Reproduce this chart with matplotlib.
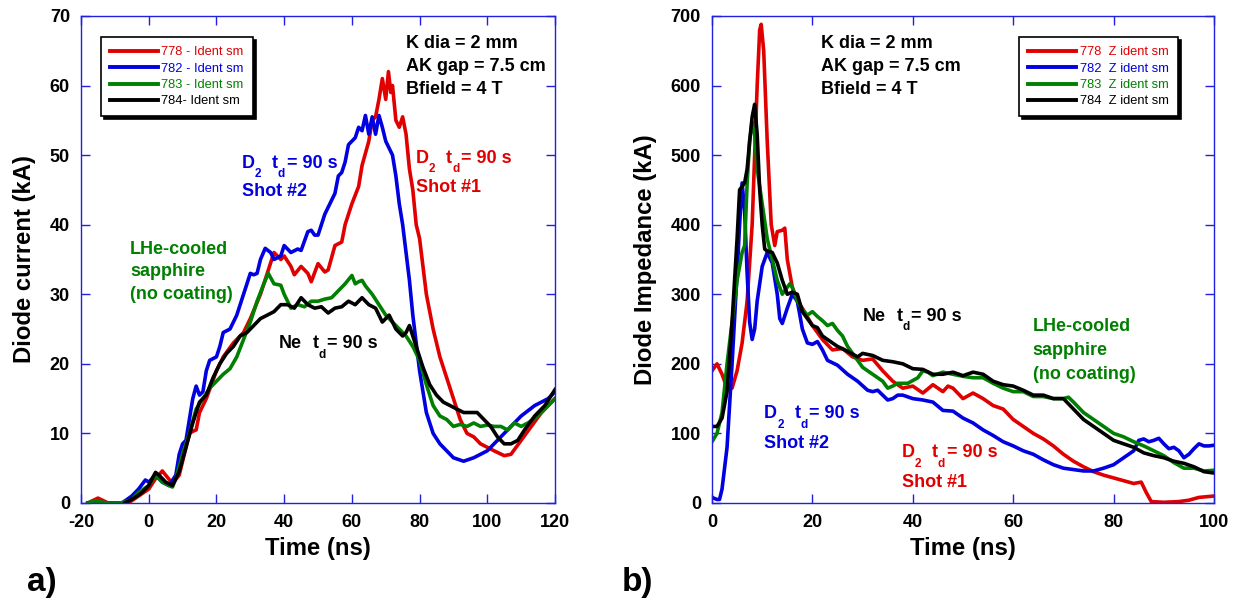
import matplotlib
matplotlib.use("Agg")
import matplotlib.pyplot as plt

plt.rcParams.update({
    "font.family": ["Liberation Sans", "DejaVu Sans"],
    "font.weight": "bold",
    "axes.unicode_minus": False,
})

# ---- (a) diode current, kA ----
t778 = [-18, -15, -12, -6, -3, 0, 2, 4, 7, 9, 11, 12, 13, 14, 15, 17, 20, 22, 25, 28, 30, 33, 35, 37,
        39, 40, 42, 43, 45, 47, 48, 50, 52, 53, 55, 57, 58, 60, 62, 63, 65, 66, 67, 68, 69, 70, 70.8,
        71.5, 72, 73, 74, 75, 76, 77, 78, 79, 80, 82, 84, 86, 88, 90, 92, 94, 96, 98, 100, 102, 105,
        107, 110, 113, 116, 118, 120]
i778 = [0, 0.7, 0, 0, 1, 2, 3.5, 4.6, 2.8, 4, 8, 10, 10.3, 10.5, 13, 15, 19, 21, 23, 24.5, 26.5, 30, 33,
        36, 35, 35.5, 34, 32.8, 34, 33, 31.8, 34.4, 33.2, 33.5, 37, 37.5, 40, 43, 45.5, 48.5, 52, 55,
        55.5, 58, 61, 58, 62, 59, 60, 55, 54, 55.5, 53, 48, 45, 40, 38, 30, 25, 21, 18, 15, 12, 10, 9.5,
        8.5, 8, 7.5, 6.8, 7, 9, 11, 13, 14, 15]

t782 = [-18, -8, -7, -5, -3, -1, 0, 2, 4, 6, 8, 9, 10, 11, 12, 13, 14, 15, 16, 17, 18, 20, 21, 22, 24,
        26, 28, 30, 31, 32, 33, 34.4, 36, 37, 39, 40, 42, 44, 45, 47, 48, 49, 50, 52, 53, 55, 56, 57, 58,
        59, 60, 61, 62, 63, 64, 65, 66, 67, 68, 69, 70, 71, 72, 73, 74, 75, 76, 77, 78, 79, 80, 81, 82,
        84, 86, 88, 90, 93, 96, 100, 103, 106, 110, 114, 118, 120]
i782 = [0, 0, 0.3, 1, 2, 3.3, 3, 4, 3, 2.5, 4, 7, 8.5, 9, 12, 15, 16.8, 15.5, 16, 19, 20.5, 21, 22.5,
        24.5, 25, 27, 30, 33, 32.8, 33, 35, 36.6, 36, 35, 35.5, 37, 36, 36.5, 36.3, 39, 39.2, 38.5, 38.5,
        41.5, 42.5, 44.5, 47, 47.5, 49, 51.5, 52, 52.5, 54, 53.5, 55.7, 53, 55.5, 53, 55.7, 54, 52, 51,
        50, 47, 43, 40, 36, 32, 27, 23, 19, 16, 13, 10, 8.5, 7.5, 6.5, 6, 6.5, 7.5, 9, 10.5, 12.5, 14,
        15, 16]

t783 = [-18, -16, -12, -8, -5, -3, 0, 2, 4, 6, 7, 8, 10, 12, 14, 16, 18, 20, 22, 24, 26, 28, 30, 32,
        34, 35.3, 37, 39, 40, 42, 44, 46, 48, 50, 52, 54, 56, 58, 60, 61, 62, 63, 64, 66, 68, 70, 72, 74,
        76, 78, 80, 82, 84, 86, 88, 90, 92, 94, 96, 98, 100, 102, 104, 106, 108, 110, 112, 115, 118, 120]
i783 = [0, 0.3, 0, 0, 0.5, 1.5, 2.5, 4, 3, 2.5, 2.3, 3.5, 7, 10, 13.5, 15, 16.5, 17.5, 18.5, 19.3, 21,
        23.5, 26, 29, 31.5, 33, 31.5, 31.3, 30, 28, 28.5, 28.2, 29, 29, 29.3, 29.5, 30.5, 31.5, 32.7, 31.5,
        31.8, 32, 31.2, 30, 28.5, 27, 26, 25, 24, 22.5, 20.5, 17, 14, 12.5, 12, 11, 11.3, 11, 11.5, 11,
        11.2, 11, 11, 10.5, 11.5, 11, 11.5, 12.5, 14, 15]

t784 = [-7, -4, -2, 0, 1, 2, 3, 5, 7, 9, 11, 13, 15, 17, 19, 21, 23, 25, 27, 29, 31, 33, 35, 37, 39, 41,
        43, 45, 47, 49, 51, 53, 55, 57, 59, 61, 63, 65, 67, 69, 71, 73, 75, 76, 77, 78, 80, 81, 83, 85,
        87, 89, 91, 93, 95, 97, 99, 101, 103, 105, 107, 109, 111, 114, 117, 120]
i784 = [0, 0.8, 1.5, 2.5, 3.5, 4.4, 4, 3, 2.5, 4.5, 8, 11.5, 14.5, 15.5, 18, 20, 21.5, 22.5, 24, 24.5,
        25.5, 26.5, 27, 27.5, 28.5, 28.5, 28, 29.5, 28.5, 28, 28.2, 27.3, 28, 28.2, 29, 28.5, 29.5, 28.5,
        28, 26, 27, 25, 24, 24.5, 25.5, 24, 21, 19.5, 17, 15.5, 14.5, 14, 13.5, 13, 13, 13, 12, 11, 9.5,
        8.5, 8.5, 9, 10.5, 12.5, 14, 16.3]

# ---- (b) diode impedance ----
tz778 = [0, 1, 2, 3, 4, 5, 6, 7, 8, 8.5, 9, 9.5, 9.8, 10.3, 11, 11.8, 12.5, 13, 14, 14.5, 15, 16, 17,
         18, 20, 22, 24, 26, 28, 30, 32, 34, 36, 38, 40, 42, 44, 46, 47, 48, 50, 52, 54, 56, 58, 60, 62,
         64, 66, 68, 70, 72, 74, 76, 78, 80, 82, 84, 85.5, 86.5, 87.5, 90, 93, 95, 97, 100]
z778 = [190, 200, 185, 165, 165, 190, 230, 290, 400, 500, 600, 680, 688, 650, 520, 400, 370, 390, 392,
        395, 350, 310, 290, 280, 255, 235, 220, 222, 210, 205, 207, 190, 175, 165, 168, 158, 170, 160,
        168, 165, 150, 158, 150, 140, 135, 120, 110, 100, 92, 82, 70, 60, 52, 45, 40, 36, 32, 28, 30, 15,
        2, 1, 2, 4, 8, 10]

tz782 = [0, 1, 1.5, 2, 3, 4, 5, 5.5, 6, 6.5, 7, 7.5, 8, 8.5, 9, 10, 11, 12, 13, 13.5, 14, 15, 16, 17,
         18, 19, 20, 21, 22, 23, 25, 27, 29, 31, 32, 33, 34, 35, 36, 37, 38, 40, 42, 44, 46, 48, 50, 52,
         54, 56, 58, 60, 62, 64, 66, 68, 70, 72, 74, 76, 78, 80, 82, 84, 85, 86, 87, 88, 89, 90, 91, 92,
         93, 94, 95, 96, 97, 98, 99, 100]
z782 = [8, 5, 5, 20, 80, 200, 330, 400, 460, 420, 330, 260, 235, 250, 290, 340, 360, 345, 300, 265, 258,
        280, 300, 290, 250, 230, 228, 232, 220, 205, 198, 185, 175, 162, 160, 162, 155, 148, 150, 155,
        155, 150, 148, 145, 133, 132, 122, 115, 105, 97, 88, 82, 75, 70, 62, 55, 50, 48, 46, 46, 50, 55,
        65, 75, 90, 92, 88, 90, 93, 85, 78, 80, 75, 65, 70, 78, 85, 82, 82, 83]

tz783 = [0, 1, 2, 3, 4, 5, 6, 6.5, 7, 7.5, 8, 8.5, 9, 10, 11, 12, 13, 14, 15, 15.5, 16, 17, 18, 19, 20,
         21, 22, 23, 24, 25, 26, 27, 28, 29, 30, 32, 34, 35, 36, 37, 39, 41, 42, 43, 44, 46, 48, 50, 52,
         54, 56, 58, 60, 62, 64, 66, 68, 70, 71, 72, 74, 76, 78, 80, 82, 84, 86, 88, 90, 92, 94, 96, 98,
         100]
z783 = [88, 100, 130, 200, 260, 320, 360, 370, 460, 520, 548, 530, 480, 430, 380, 350, 320, 300, 310,
        315, 310, 290, 278, 270, 275, 268, 262, 255, 258, 248, 240, 225, 215, 205, 195, 185, 175, 165,
        168, 172, 172, 180, 190, 188, 183, 188, 185, 182, 180, 180, 172, 165, 160, 160, 153, 153, 150,
        150, 152, 145, 130, 120, 110, 100, 95, 88, 82, 75, 68, 58, 50, 50, 46, 47]

tz784 = [0, 1, 2, 3, 4, 5, 5.5, 6, 6.5, 7, 7.5, 8, 8.5, 9, 9.5, 10, 10.5, 11, 12, 13, 14, 15, 16, 17,
         18, 19, 20, 21, 22, 23, 25, 27, 29, 30, 32, 34, 36, 38, 40, 42, 44, 46, 48, 50, 52, 54, 56, 58,
         60, 62, 64, 66, 68, 70, 72, 74, 76, 78, 80, 82, 84, 86, 88, 90, 92, 94, 96, 98, 100]
z784 = [110, 110, 122, 160, 260, 380, 450, 455, 460, 480, 520, 555, 573, 530, 450, 400, 365, 362, 360,
        345, 320, 300, 303, 300, 275, 265, 255, 252, 240, 235, 225, 218, 210, 215, 212, 205, 203, 200,
        193, 192, 185, 185, 188, 183, 188, 185, 175, 170, 168, 162, 155, 155, 150, 150, 135, 120, 110,
        100, 90, 85, 80, 72, 68, 65, 60, 57, 52, 45, 43]

RED, BLUE, GREEN, BLACK = "#e00000", "#0000e0", "#008000", "#000000"
SPINE = "#2020e0"
LW = 2.6

current_series = [(t778, i778, RED, "778 - Ident sm"),
                  (t782, i782, BLUE, "782 - Ident sm"),
                  (t783, i783, GREEN, "783 - Ident sm"),
                  (t784, i784, BLACK, "784- Ident sm")]
impedance_series = [(tz778, z778, RED, "778  Z ident sm"),
                    (tz782, z782, BLUE, "782  Z ident sm"),
                    (tz783, z783, GREEN, "783  Z ident sm"),
                    (tz784, z784, BLACK, "784  Z ident sm")]

DPI = 100
fig = plt.figure(figsize=(12.43, 6.02), dpi=DPI)
ax1 = fig.add_axes([0.0652, 0.1645, 0.3813, 0.809])
ax2 = fig.add_axes([0.5728, 0.1645, 0.4039, 0.809])


def style_axes(ax):
    for sp in ax.spines.values():
        sp.set_color(SPINE)
        sp.set_linewidth(1.0)
    ax.tick_params(direction="in", top=True, right=True, color=SPINE,
                   length=6.7, width=1, labelsize=13, pad=8)
    for lab in ax.get_xticklabels() + ax.get_yticklabels():
        lab.set_fontweight("bold")


def add_legend(ax, anchor, loc):
    leg = ax.legend(loc=loc, bbox_to_anchor=anchor, bbox_transform=ax.transAxes,
                    borderaxespad=0, frameon=True,
                    handlelength=3.7, handletextpad=0.3, labelspacing=0.33,
                    borderpad=0.7, labelcolor="linecolor", fancybox=False,
                    shadow={"color": "black", "alpha": 1.0},
                    prop={"weight": "normal", "size": 9.3})
    leg.get_frame().set_edgecolor("black")
    leg.get_frame().set_linewidth(1.2)
    for ln in leg.get_lines():
        ln.set_linewidth(2.8)
    return leg


for t, v, c, lab in current_series:
    ax1.plot(t, v, color=c, lw=LW, label=lab)
ax1.set_xlim(-20, 120)
ax1.set_ylim(0, 70)
ax1.set_xticks(range(-20, 121, 20))
ax1.set_yticks(range(0, 71, 10))
style_axes(ax1)
ax1.set_xlabel("Time (ns)", fontsize=17.2, fontweight="bold", labelpad=4)
ax1.set_ylabel("Diode current (kA)", fontsize=17.2, fontweight="bold", labelpad=10)
add_legend(ax1, (0.0416, 0.956), "upper left")

for t, v, c, lab in impedance_series:
    ax2.plot(t, v, color=c, lw=LW, label=lab)
ax2.set_xlim(0, 100)
ax2.set_ylim(0, 700)
ax2.set_xticks(range(0, 101, 20))
ax2.set_yticks(range(0, 701, 100))
style_axes(ax2)
ax2.set_xlabel("Time (ns)", fontsize=17.2, fontweight="bold", labelpad=4)
ax2.set_ylabel("Diode Impedance (kA)", fontsize=17.2, fontweight="bold", labelpad=10)
add_legend(ax2, (0.928, 0.956), "upper right")

renderer = fig.canvas.get_renderer()
FS = 13
SUB_FS = 8.5
SUB_DROP = 7.0


def rich_label(ax, x, y, parts, color):
    """Draw text pieces left to right; pieces flagged 'sub' are small and lowered."""
    dx = 0.0
    for s, kind in parts:
        if kind == "gap":
            dx += s
            continue
        sub = kind == "sub"
        t = ax.annotate(s, (x, y), xytext=(dx, -SUB_DROP if sub else 0),
                        textcoords="offset points", fontsize=SUB_FS if sub else FS,
                        fontweight="bold", color=color, ha="left", va="baseline")
        dx += t.get_window_extent(renderer).width * 72.0 / DPI


def gas_parts(name):
    parts = [(name[0], "main")]
    if len(name) > 1:
        parts.append((name[1], "sub"))
    parts += [(7.7, "gap"), ("t", "main"), ("d", "sub"), (1.2, "gap"), ("= 90 s", "main")]
    return parts


D2 = [("D", "main"), ("2", "sub"), (7.7, "gap"), ("t", "main"), ("d", "sub"),
      (1.2, "gap"), ("= 90 s", "main")]
NE = [("Ne", "main"), (7.5, "gap"), ("t", "main"), ("d", "sub"), (1.2, "gap"),
      ("= 90 s", "main")]

# parameter block
params = ["K dia = 2 mm", "AK gap = 7.5 cm", "Bfield = 4 T"]
for ax, x0, ys in [(ax1, 76, [66.0, 62.7, 59.5]), (ax2, 21.8, [661, 627, 595])]:
    for y, s in zip(ys, params):
        ax.text(x0, y, s, fontsize=FS, fontweight="bold", color="black", va="center", ha="left")

lhe = ["LHe-cooled", "sapphire", "(no coating)"]

# panel (a) annotations (baselines)
rich_label(ax1, 27.4, 48.2, D2, BLUE)
ax1.text(27.4, 44.7, "Shot #2", color=BLUE, fontsize=FS, va="center")
rich_label(ax1, 78.9, 48.9, D2, RED)
ax1.text(78.9, 45.3, "Shot #1", color=RED, fontsize=FS, va="center")
for y, s in zip([36.5, 33.3, 30.0], lhe):
    ax1.text(-5.5, y, s, color=GREEN, fontsize=FS, va="center")
rich_label(ax1, 38.5, 22.3, NE, "black")

# panel (b) annotations
rich_label(ax2, 10.4, 122, D2, BLUE)
ax2.text(10.4, 86, "Shot #2", color=BLUE, fontsize=FS, va="center")
rich_label(ax2, 37.8, 66, D2, RED)
ax2.text(37.8, 29, "Shot #1", color=RED, fontsize=FS, va="center")
for y, s in zip([253, 218.5, 184.7], lhe):
    ax2.text(63.9, y, s, color=GREEN, fontsize=FS, va="center")
rich_label(ax2, 30.1, 262, NE, "black")

fig.text(0.022, 0.032, "a)", fontsize=24, fontweight="bold", va="center", ha="left")
fig.text(0.500, 0.032, "b)", fontsize=24, fontweight="bold", va="center", ha="left")

fig.savefig("out.png", dpi=DPI)
